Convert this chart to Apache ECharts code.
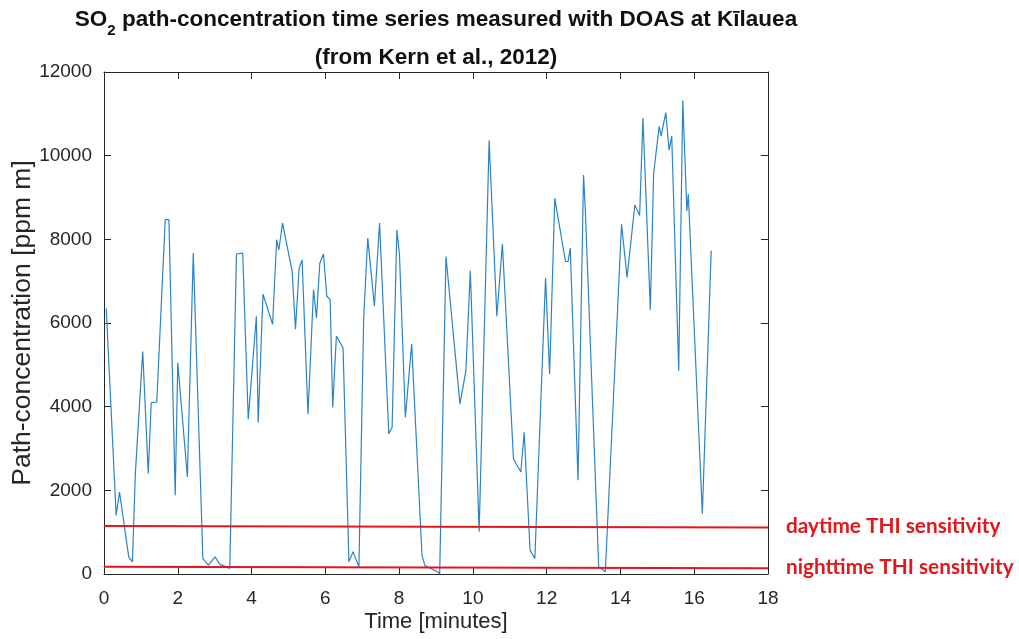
<!DOCTYPE html>
<html>
<head>
<meta charset="utf-8">
<script src="https://cdn.jsdelivr.net/npm/echarts@6/dist/echarts.min.js"></script>
<style>html,body{margin:0;padding:0;background:#fff;}#c{width:1019px;height:639px;}</style>
</head>
<body>
<div id="c"></div>
<script>
// Time in minutes
var times = [0.06,0.33,0.42,0.67,0.77,0.85,1.05,1.20,1.28,1.43,1.66,1.76,1.93,2.00,2.26,2.42,2.68,2.83,3.01,3.14,3.41,3.59,3.76,3.91,4.13,4.18,4.31,4.57,4.68,4.74,4.84,5.10,5.19,5.29,5.37,5.53,5.68,5.76,5.85,5.95,6.04,6.13,6.20,6.30,6.48,6.64,6.75,6.91,7.04,7.15,7.33,7.47,7.72,7.81,7.94,8.01,8.17,8.34,8.62,8.70,9.04,9.10,9.27,9.65,9.81,9.93,10.17,10.44,10.65,10.80,11.10,11.30,11.39,11.55,11.68,11.97,12.08,12.22,12.51,12.58,12.64,12.85,13.00,13.05,13.41,13.59,14.03,14.18,14.39,14.52,14.61,14.81,14.90,15.05,15.10,15.23,15.32,15.39,15.58,15.69,15.80,15.84,16.22,16.46];
// SO2 path-concentration [ppm m]
var concentration = [6350,1400,1960,410,290,2400,5320,2400,4100,4110,8470,8470,1880,5050,2320,7670,370,210,410,230,135,7650,7670,3700,6160,3620,6690,5970,7990,7750,8390,7240,5850,7310,7510,3820,6800,6120,7430,7650,6640,6560,3980,5690,5410,290,530,170,6120,8030,6400,8390,3350,3510,8230,7630,3740,5500,450,200,55,0,7590,4060,4860,7250,1010,10370,6160,7890,2750,2440,3390,570,370,7080,4780,8980,7470,7470,7790,2240,9540,8660,170,55,8360,7090,8820,8570,10900,6320,9580,10700,10470,11030,10130,10470,4860,11320,8680,9080,1440,7730];
// THI sensitivity lines
var sensTimes = [0, 18];
var daytimeSens = [1150, 1110];
var nighttimeSens = [175, 140];
var xTicks = [0,2,4,6,8,10,12,14,16,18];
var yTicks = [0,2000,4000,6000,8000,10000,12000];

function pairs(xs, ys){ return xs.map(function(x,i){ return [x, ys[i]]; }); }

var axisColor = '#262626';
var chart = echarts.init(document.getElementById('c'), null, {renderer:'canvas'});
var xMin = xTicks[0], xMax = xTicks[xTicks.length-1], xInt = xTicks[1]-xTicks[0];
var yMin = yTicks[0], yMax = yTicks[yTicks.length-1], yInt = yTicks[1]-yTicks[0];
var FF = 'Liberation Sans, Arial, sans-serif';
var tickFont = {fontFamily:FF, fontSize:19, color:axisColor};
var plotLeft = 104, plotRight = 768;
var titleX = (plotLeft + plotRight) / 2;

chart.setOption({
  animation:false,
  backgroundColor:'#fff',
  grid:{left:plotLeft, right:1019-plotRight, top:72, bottom:65, containLabel:false, outerBoundsMode:'none'},
  xAxis:[{
    type:'value', min:xMin, max:xMax, interval:xInt, position:'bottom',
    name:'Time [minutes]', nameLocation:'middle', nameGap:37, nameMoveOverlap:false,
    nameTextStyle:{fontFamily:FF, fontSize:22, color:axisColor},
    axisLine:{show:true, onZero:false, lineStyle:{color:axisColor, width:1}},
    axisTick:{show:true, inside:true, length:7, lineStyle:{color:axisColor}},
    axisLabel:Object.assign({margin:15, formatter:function(v){return String(v);}}, tickFont),
    splitLine:{show:false}
  },{
    type:'value', min:xMin, max:xMax, interval:xInt, position:'top',
    axisLine:{show:true, onZero:false, lineStyle:{color:axisColor, width:1}},
    axisTick:{show:true, inside:true, length:7, lineStyle:{color:axisColor}},
    axisLabel:{show:false}, splitLine:{show:false}
  }],
  yAxis:[{
    type:'value', min:yMin, max:yMax, interval:yInt, position:'left',
    name:'Path-concentration [ppm m]', nameLocation:'middle', nameGap:68, nameRotate:90, nameMoveOverlap:false,
    nameTextStyle:{fontFamily:FF, fontSize:26.5, color:axisColor},
    axisLine:{show:true, onZero:false, lineStyle:{color:axisColor, width:1}},
    axisTick:{show:true, inside:true, length:7, lineStyle:{color:axisColor}},
    axisLabel:Object.assign({margin:12, formatter:function(v){return String(v);}}, tickFont),
    splitLine:{show:false}
  },{
    type:'value', min:yMin, max:yMax, interval:yInt, position:'right',
    axisLine:{show:true, onZero:false, lineStyle:{color:axisColor, width:1}},
    axisTick:{show:true, inside:true, length:7, lineStyle:{color:axisColor}},
    axisLabel:{show:false}, splitLine:{show:false}
  }],
  series:[{
    type:'line', data:pairs(times, concentration), showSymbol:false, symbol:'none',
    lineStyle:{color:'#2b83c6', width:1.2}, z:3
  },{
    type:'line', data:pairs(sensTimes, daytimeSens), showSymbol:false, symbol:'none',
    lineStyle:{color:'#e3161e', width:2}, z:4
  },{
    type:'line', data:pairs(sensTimes, nighttimeSens), showSymbol:false, symbol:'none',
    lineStyle:{color:'#e3161e', width:2}, z:4
  },{
    type:'line', xAxisIndex:1, yAxisIndex:1, data:pairs(sensTimes, nighttimeSens), showSymbol:false, symbol:'none',
    lineStyle:{opacity:0, width:0}, silent:true, z:0
  }],
  graphic:[{
    type:'text', x:titleX, y:2,
    style:{
      align:'center', textAlign:'center',
      text:'{b|SO}{s|2}{b| path-concentration time series measured with DOAS at Kīlauea}',
      rich:{
        b:{fontFamily:FF, fontSize:22.5, fontWeight:'bold', fill:'#111', lineHeight:36},
        s:{fontFamily:FF, fontSize:15, fontWeight:'bold', fill:'#111', lineHeight:36, verticalAlign:'bottom'}
      }
    }
  },{
    type:'text', x:titleX, y:46,
    style:{textAlign:'center', text:'(from Kern et al., 2012)', fontFamily:FF, fontSize:22.5, fontWeight:'bold', fill:'#111'}
  },{
    type:'text', x:786, y:526,
    style:{textVerticalAlign:'middle', verticalAlign:'middle', text:'daytime THI sensitivity', fontFamily:'Lato, sans-serif', fontSize:20.8, fontWeight:'bold', fill:'#e3161e'}
  },{
    type:'text', x:786, y:567,
    style:{textVerticalAlign:'middle', verticalAlign:'middle', text:'nighttime THI sensitivity', fontFamily:'Lato, sans-serif', fontSize:20.8, fontWeight:'bold', fill:'#e3161e'}
  }]
});
</script>
</body>
</html>
